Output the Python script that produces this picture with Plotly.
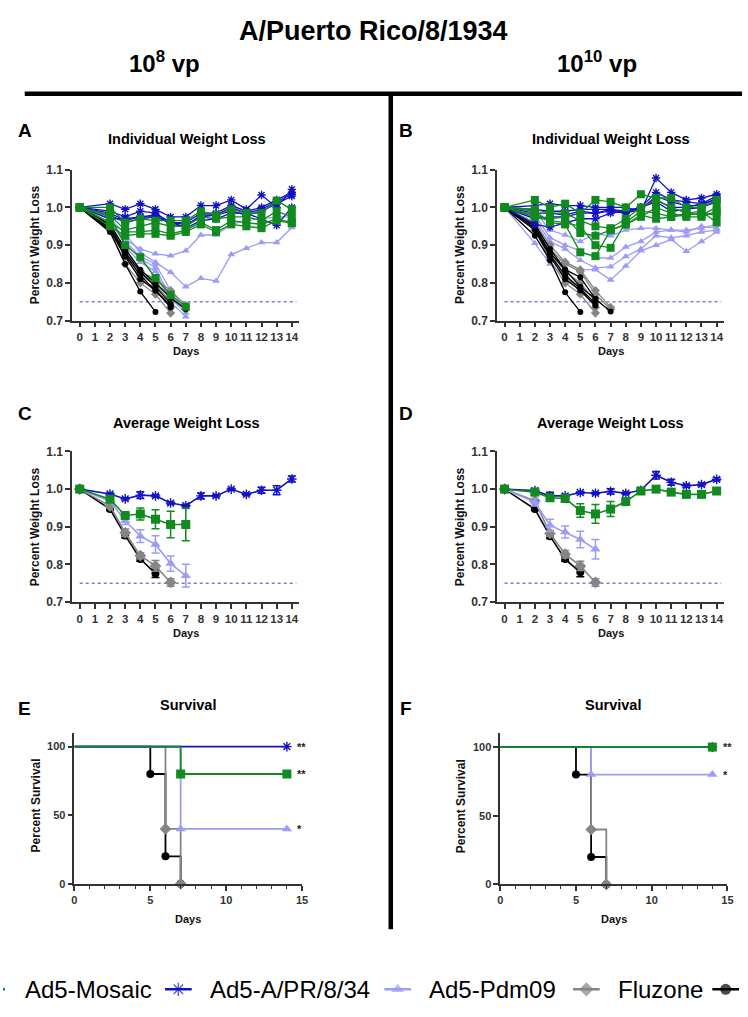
import plotly.graph_objects as go

W, H = 748, 1017

# ---------------- data ----------------
DAYS = [0, 2, 3, 4, 5, 6, 7, 8, 9, 10, 11, 12, 13, 14]
DAY_TICKS = list(range(0, 15))
THRESHOLD = 0.75

GROUPS = ["Ad5-Mosaic", "Ad5-A/PR/8/34", "Ad5-Pdm09", "Fluzone", "PBS"]

# Panel A: individual weights, 10^8 vp
A_MOSAIC = [
    [1, 1.00, 0.96, 0.97, 0.965, 0.965, 0.965, 0.99, 0.98, 0.995, 0.985, 0.985, 1.018, 0.995],
    [1, 0.98, 0.94, 0.95, 0.96, 0.95, 0.95, 0.975, 0.97, 0.975, 0.975, 0.965, 0.99, 0.975],
    [1, 0.96, 0.935, 0.935, 0.94, 0.93, 0.94, 0.96, 0.94, 0.965, 0.96, 0.955, 0.97, 0.96],
    [1, 0.95, 0.925, 0.93, 0.93, 0.925, 0.935, 0.955, 0.935, 0.955, 0.95, 0.945, 0.965, 0.958],
    [1, 0.975, 0.90, 0.868, 0.813, 0.768, 0.737],
]
A_PR8 = [
    [1, 1.01, 0.995, 1.01, 0.995, 0.975, 0.975, 1.005, 1.005, 1.02, 0.995, 1.033, 1.0, 1.048],
    [1, 0.99, 0.975, 0.99, 0.985, 0.96, 0.96, 0.985, 0.985, 1.005, 0.99, 1.0, 1.02, 1.04],
    [1, 0.985, 0.965, 0.975, 0.98, 0.955, 0.95, 0.98, 0.98, 1.0, 0.985, 0.995, 1.015, 1.035],
    [1, 0.98, 0.96, 0.97, 0.975, 0.96, 0.955, 0.975, 0.98, 0.99, 0.98, 0.99, 1.01, 1.03],
    [1, 0.97, 0.97, 0.975, 0.975, 0.963, 0.945, 0.965, 0.97, 0.985, 0.985, 0.97, 0.953, 1.0],
]
A_PDM09 = [
    [1, 0.96, 0.915, 0.89, 0.877, 0.872, 0.885, 0.927, 0.927, 0.955, 0.965, 0.97, 0.975, 0.975],
    [1, 0.97, 0.93, 0.88, 0.855, 0.828, 0.79, 0.812, 0.805, 0.875, 0.892, 0.907, 0.907, 0.947],
    [1, 0.97, 0.91, 0.87, 0.85, 0.78, 0.73],
    [1, 0.96, 0.905, 0.865, 0.84, 0.76, 0.72],
    [1, 0.95, 0.895, 0.855, 0.83, 0.75, 0.71],
]
A_FLUZONE = [
    [1, 0.955, 0.89, 0.83, 0.81, 0.78, 0.74],
    [1, 0.95, 0.885, 0.825, 0.80, 0.765, 0.73],
    [1, 0.95, 0.88, 0.82, 0.795, 0.75],
    [1, 0.945, 0.87, 0.81, 0.785, 0.735],
    [1, 0.94, 0.85, 0.80, 0.77, 0.72],
]
A_PBS = [
    [1, 0.935, 0.85, 0.777, 0.723],
    [1, 0.94, 0.87, 0.81, 0.78, 0.74],
    [1, 0.945, 0.875, 0.82, 0.78, 0.735],
    [1, 0.95, 0.88, 0.83, 0.79, 0.745],
    [1, 0.955, 0.89, 0.835, 0.80, 0.76, 0.73],
]

# Panel B: individual weights, 10^10 vp
B_MOSAIC = [
    [1, 1.02, 1.0, 1.01, 0.985, 1.02, 1.015, 1.0, 1.035, 1.025, 1.025, 1.0, 1.0, 1.02],
    [1, 0.995, 0.985, 0.985, 0.965, 0.95, 0.945, 0.97, 1.0, 1.02, 1.0, 0.985, 0.98, 1.0],
    [1, 0.98, 0.97, 0.975, 0.932, 0.925, 0.94, 0.955, 0.975, 1.0, 0.985, 0.975, 0.975, 0.99],
    [1, 0.975, 0.965, 0.96, 0.95, 0.90, 0.893, 0.96, 0.99, 0.985, 0.975, 0.98, 0.985, 0.98],
    [1, 0.99, 0.96, 0.955, 0.881, 0.871, 0.94, 0.955, 0.98, 0.97, 0.975, 0.985, 0.99, 0.96],
]
B_PR8 = [
    [1, 1.005, 1.01, 1.005, 1.005, 1.0, 1.0, 1.0, 0.99, 1.078, 1.04, 1.02, 1.025, 1.035],
    [1, 0.995, 0.99, 0.99, 0.995, 0.995, 0.995, 0.99, 1.0, 1.04, 1.02, 1.015, 1.01, 1.03],
    [1, 0.985, 0.985, 0.98, 0.99, 0.985, 0.995, 0.985, 0.995, 1.03, 1.015, 1.005, 1.005, 1.025],
    [1, 0.97, 0.975, 0.975, 0.985, 0.985, 0.99, 0.985, 1.0, 1.02, 1.0, 1.0, 1.01, 1.02],
    [1, 0.955, 0.948, 0.96, 0.97, 0.97, 0.985, 0.99, 1.0, 1.015, 0.99, 0.995, 1.0, 1.015],
]
B_PDM09 = [
    [1, 0.99, 0.94, 0.927, 0.91, 0.93, 0.925, 0.94, 0.945, 0.945, 0.94, 0.94, 0.945, 0.955],
    [1, 0.98, 0.92, 0.90, 0.885, 0.866, 0.866, 0.895, 0.91, 0.935, 0.94, 0.935, 0.95, 0.945],
    [1, 0.97, 0.91, 0.89, 0.86, 0.84, 0.843, 0.87, 0.89, 0.925, 0.92, 0.925, 0.935, 0.94],
    [1, 0.975, 0.87, 0.855, 0.835, 0.835, 0.808, 0.845, 0.885, 0.90, 0.915, 0.884, 0.91, 0.935],
    [1, 0.905, 0.85, 0.815, 0.78, 0.74],
]
B_FLUZONE = [
    [1, 0.96, 0.90, 0.855, 0.835, 0.78, 0.735],
    [1, 0.955, 0.89, 0.85, 0.83, 0.77, 0.73],
    [1, 0.95, 0.88, 0.83, 0.80, 0.75],
    [1, 0.945, 0.87, 0.815, 0.785, 0.735],
    [1, 0.94, 0.86, 0.80, 0.77, 0.72],
]
B_PBS = [
    [1, 0.925, 0.86, 0.775, 0.723],
    [1, 0.94, 0.87, 0.81, 0.78, 0.74],
    [1, 0.945, 0.875, 0.82, 0.785, 0.745],
    [1, 0.95, 0.88, 0.835, 0.79, 0.757],
    [1, 0.955, 0.89, 0.835, 0.815, 0.757, 0.724],
]

# Panel C: mean weights, 10^8 vp (mean, SEM)
C_MOSAIC = [1.0, 0.973, 0.930, 0.934, 0.920, 0.906, 0.906]
C_MOSAIC_ERR = [0, 0.008, 0.005, 0.016, 0.025, 0.035, 0.043]
C_PR8 = [1.0, 0.987, 0.974, 0.984, 0.982, 0.963, 0.956, 0.982, 0.982, 1.0, 0.986, 0.997, 0.997, 1.027]
C_PR8_ERR = [0, 0.003, 0.003, 0.009, 0.003, 0.003, 0.003, 0.008, 0.003, 0.002, 0.003, 0.008, 0.012, 0.008]
C_PDM09 = [1.0, 0.968, 0.916, 0.875, 0.853, 0.802, 0.770]
C_PDM09_ERR = [0, 0.005, 0.010, 0.017, 0.023, 0.020, 0.030]
C_FLUZONE = [1.0, 0.955, 0.884, 0.823, 0.796, 0.752]
C_FLUZONE_ERR = [0, 0.004, 0.010, 0.008, 0.014, 0.010]
C_PBS = [1.0, 0.947, 0.877, 0.814, 0.776]
C_PBS_ERR = [0, 0.004, 0.006, 0.006, 0.011]

# Panel D: mean weights, 10^10 vp (mean, SEM)
D_MOSAIC = [1.0, 0.992, 0.977, 0.975, 0.943, 0.934, 0.947, 0.967, 0.995, 1.0, 0.992, 0.986, 0.986, 0.995]
D_MOSAIC_ERR = [0, 0.008, 0.005, 0.008, 0.018, 0.025, 0.020, 0.004, 0.006, 0.006, 0.006, 0.004, 0.004, 0.006]
D_PR8 = [1.0, 0.996, 0.982, 0.982, 0.991, 0.989, 0.994, 0.989, 0.997, 1.037, 1.018, 1.009, 1.012, 1.026]
D_PR8_ERR = [0, 0.005, 0.010, 0.004, 0.003, 0.003, 0.007, 0.003, 0.003, 0.010, 0.008, 0.004, 0.004, 0.004]
D_PDM09 = [1.0, 0.965, 0.904, 0.886, 0.866, 0.840]
D_PDM09_ERR = [0, 0.010, 0.016, 0.016, 0.022, 0.026]
D_FLUZONE = [1.0, 0.969, 0.882, 0.827, 0.796, 0.752]
D_FLUZONE_ERR = [0, 0.004, 0.008, 0.010, 0.012, 0.010]
D_PBS = [1.0, 0.947, 0.875, 0.814, 0.779]
D_PBS_ERR = [0, 0.004, 0.006, 0.006, 0.012]

# Panels E/F: Kaplan-Meier survival (%)
E_MOSAIC_X, E_MOSAIC_Y = [0, 7, 14], [100, 80, 80]
E_PR8_X, E_PR8_Y = [0, 14], [100, 100]
E_PDM09_X, E_PDM09_Y = [0, 7, 14], [100, 40, 40]
E_FLUZONE_X, E_FLUZONE_Y = [0, 6, 7], [100, 40, 0]
E_PBS_X, E_PBS_Y = [0, 5, 6, 7], [100, 80, 20, 0]

F_MOSAIC_X, F_MOSAIC_Y = [0, 14], [100, 100]
F_PR8_X, F_PR8_Y = [0, 14], [100, 100]
F_PDM09_X, F_PDM09_Y = [0, 6, 14], [100, 80, 80]
F_FLUZONE_X, F_FLUZONE_Y = [0, 6, 7], [100, 40, 0]
F_PBS_X, F_PBS_Y = [0, 5, 6, 7], [100, 80, 20, 0]

E_SIG = [("**", 100), ("**", 80), ("*", 40)]
F_SIG = [("**", 100), ("*", 80)]

# ---------------- styles ----------------
GREEN = "#118A1F"
BLUE = "#1212C4"
LAV = "#9C9CF7"
GRAY = "#858585"
BLACK = "#000000"
AX = "#333333"
FONT = "Liberation Sans, Arial, sans-serif"

STY = {
    "Ad5-Mosaic": dict(color=GREEN, symbol="square", s_ind=8, s_avg=9),
    "Ad5-A/PR/8/34": dict(color=BLUE, symbol="asterisk-open", s_ind=7, s_avg=8),
    "Ad5-Pdm09": dict(color=LAV, symbol="triangle-up", s_ind=7, s_avg=9),
    "Fluzone": dict(color=GRAY, symbol="diamond", s_ind=7, s_avg=9),
    "PBS": dict(color=BLACK, symbol="circle", s_ind=6, s_avg=8),
}


def marker(name, size):
    st = STY[name]
    m = dict(symbol=st["symbol"], size=size, color=st["color"])
    if "asterisk" in st["symbol"]:
        m["line"] = dict(color=st["color"], width=1.4)
    else:
        m["line"] = dict(width=0)
    return m


def px(x):
    return x / W


def py(y):
    return 1 - y / H


fig = go.Figure()

# individual panels
ind_order = ["Ad5-Pdm09", "Fluzone", "PBS", "Ad5-A/PR/8/34", "Ad5-Mosaic"]
A_DATA = {"Ad5-Mosaic": A_MOSAIC, "Ad5-A/PR/8/34": A_PR8, "Ad5-Pdm09": A_PDM09,
          "Fluzone": A_FLUZONE, "PBS": A_PBS}
B_DATA = {"Ad5-Mosaic": B_MOSAIC, "Ad5-A/PR/8/34": B_PR8, "Ad5-Pdm09": B_PDM09,
          "Fluzone": B_FLUZONE, "PBS": B_PBS}
for data, xa, ya in [(A_DATA, "x", "y"), (B_DATA, "x2", "y2")]:
    for g in ind_order:
        for mouse in data[g]:
            fig.add_trace(go.Scatter(
                x=DAYS[:len(mouse)], y=mouse, mode="lines+markers",
                line=dict(color=STY[g]["color"], width=1.3),
                marker=marker(g, STY[g]["s_ind"]),
                xaxis=xa, yaxis=ya, showlegend=False, cliponaxis=False))

# mean panels
avg_order = ["PBS", "Fluzone", "Ad5-Pdm09", "Ad5-A/PR/8/34", "Ad5-Mosaic"]
C_DATA = {"Ad5-Mosaic": (C_MOSAIC, C_MOSAIC_ERR), "Ad5-A/PR/8/34": (C_PR8, C_PR8_ERR),
          "Ad5-Pdm09": (C_PDM09, C_PDM09_ERR), "Fluzone": (C_FLUZONE, C_FLUZONE_ERR),
          "PBS": (C_PBS, C_PBS_ERR)}
D_DATA = {"Ad5-Mosaic": (D_MOSAIC, D_MOSAIC_ERR), "Ad5-A/PR/8/34": (D_PR8, D_PR8_ERR),
          "Ad5-Pdm09": (D_PDM09, D_PDM09_ERR), "Fluzone": (D_FLUZONE, D_FLUZONE_ERR),
          "PBS": (D_PBS, D_PBS_ERR)}
for data, xa, ya in [(C_DATA, "x3", "y3"), (D_DATA, "x4", "y4")]:
    for g in avg_order:
        mean, err = data[g]
        fig.add_trace(go.Scatter(
            x=DAYS[:len(mean)], y=mean, mode="lines+markers",
            line=dict(color=STY[g]["color"], width=1.6),
            marker=marker(g, STY[g]["s_avg"]),
            error_y=dict(type="data", array=err, color=STY[g]["color"], thickness=1.5, width=4),
            xaxis=xa, yaxis=ya, showlegend=False, cliponaxis=False))

# survival panels
surv_order = ["PBS", "Fluzone", "Ad5-Pdm09", "Ad5-A/PR/8/34", "Ad5-Mosaic"]
E_DATA = {"Ad5-Mosaic": (E_MOSAIC_X, E_MOSAIC_Y), "Ad5-A/PR/8/34": (E_PR8_X, E_PR8_Y),
          "Ad5-Pdm09": (E_PDM09_X, E_PDM09_Y), "Fluzone": (E_FLUZONE_X, E_FLUZONE_Y),
          "PBS": (E_PBS_X, E_PBS_Y)}
F_DATA = {"Ad5-Mosaic": (F_MOSAIC_X, F_MOSAIC_Y), "Ad5-A/PR/8/34": (F_PR8_X, F_PR8_Y),
          "Ad5-Pdm09": (F_PDM09_X, F_PDM09_Y), "Fluzone": (F_FLUZONE_X, F_FLUZONE_Y),
          "PBS": (F_PBS_X, F_PBS_Y)}
for data, xa, ya in [(E_DATA, "x5", "y5"), (F_DATA, "x6", "y6")]:
    for g in surv_order:
        sx, sy = data[g]
        fig.add_trace(go.Scatter(
            x=sx, y=sy, mode="lines", line=dict(color=STY[g]["color"], width=1.8, shape="hv"),
            xaxis=xa, yaxis=ya, showlegend=False, cliponaxis=False))
    for g in ["PBS", "Ad5-Pdm09", "Ad5-A/PR/8/34", "Ad5-Mosaic", "Fluzone"]:
        sx, sy = data[g]
        fig.add_trace(go.Scatter(
            x=sx[1:], y=sy[1:], mode="markers", marker=marker(g, STY[g]["s_avg"]),
            xaxis=xa, yaxis=ya, showlegend=False, cliponaxis=False))

# legend strip (hidden helper axis in pixel units)
LEG_ITEMS = [("Ad5-Mosaic", -25, 20), ("Ad5-A/PR/8/34", 164, 207), ("Ad5-Pdm09", 386, 429),
             ("Fluzone", 577, 620), ("PBS", 718, None)]
LEG_Y = 996
for g, x0, tx in LEG_ITEMS:
    fig.add_trace(go.Scatter(
        x=[x0, x0 + 13.5, x0 + 27], y=[0.5, 0.5, 0.5], mode="lines+markers",
        line=dict(color=STY[g]["color"], width=2.5),
        marker=dict(marker(g, 11), size=[0, 11, 0]),
        xaxis="x7", yaxis="y7", showlegend=False))

# ---------------- axes ----------------
def wl_x(x0, x1, anchor):
    return dict(domain=[px(x0), px(x1)], range=[-0.5, 14.5], tickvals=DAY_TICKS,
                ticks="outside", ticklen=5, tickwidth=1.5, tickcolor=AX,
                showline=True, linecolor=AX, linewidth=1.5, showgrid=False, zeroline=False,
                tickfont=dict(family=FONT, size=11.5, color=AX, weight="bold"), anchor=anchor)


def wl_y(y0, y1, anchor):
    return dict(domain=[py(y1), py(y0)], range=[0.7, 1.1], tickvals=[0.7, 0.8, 0.9, 1.0, 1.1],
                tickformat=".1f", ticks="outside", ticklen=5, tickwidth=1.5, tickcolor=AX,
                showline=True, linecolor=AX, linewidth=1.5, showgrid=False, zeroline=False,
                tickfont=dict(family=FONT, size=12, color=AX, weight="bold"), anchor=anchor)


def sv_x(x0, x1, anchor):
    return dict(domain=[px(x0), px(x1)], range=[0, 15], tickvals=[0, 5, 10, 15],
                ticks="outside", ticklen=5, tickwidth=1.5, tickcolor=AX,
                minor=dict(dtick=1, ticks="outside", ticklen=3, tickwidth=1.2, tickcolor=AX),
                showline=True, linecolor=AX, linewidth=1.5, showgrid=False, zeroline=False,
                tickfont=dict(family=FONT, size=11, color=AX, weight="bold"), anchor=anchor)


def sv_y(y0, y1, anchor):
    return dict(domain=[py(y1), py(y0)], range=[0, 110], tickvals=[0, 50, 100],
                ticks="outside", ticklen=5, tickwidth=1.5, tickcolor=AX,
                showline=True, linecolor=AX, linewidth=1.5, showgrid=False, zeroline=False,
                tickfont=dict(family=FONT, size=11, color=AX, weight="bold"), anchor=anchor)


fig.update_layout(
    width=W, height=H, margin=dict(l=0, r=0, t=0, b=0),
    paper_bgcolor="white", plot_bgcolor="white", showlegend=False,
    xaxis=wl_x(70, 300, "y"), yaxis=wl_y(165, 318, "x"),
    xaxis2=wl_x(500, 730, "y2"), yaxis2=wl_y(165, 318, "x2"),
    xaxis3=wl_x(70, 300, "y3"), yaxis3=wl_y(450.7, 603.3, "x3"),
    xaxis4=wl_x(500, 730, "y4"), yaxis4=wl_y(450.7, 603.3, "x4"),
    xaxis5=sv_x(72.3, 302.7, "y5"), yaxis5=sv_y(736, 889, "x5"),
    xaxis6=sv_x(503.3, 733.3, "y6"), yaxis6=sv_y(736.5, 889.7, "x6"),
    xaxis7=dict(domain=[0, 1], range=[0, W], visible=False, anchor="y7"),
    yaxis7=dict(domain=[py(LEG_Y + 10), py(LEG_Y - 10)], range=[0, 1], visible=False, anchor="x7"),
)

shapes = []
# dotted threshold lines
for xr, yr in [("x", "y"), ("x2", "y2"), ("x3", "y3"), ("x4", "y4")]:
    shapes.append(dict(type="line", xref=xr, yref=yr, x0=0, x1=14.3, y0=THRESHOLD, y1=THRESHOLD,
                       line=dict(color="#7C7CD8", width=1.5, dash="dot"), layer="below"))
# header dividers
shapes.append(dict(type="line", xref="paper", yref="paper", x0=px(22), x1=px(748),
                   y0=py(88), y1=py(88), line=dict(color="black", width=4.5)))
shapes.append(dict(type="line", xref="paper", yref="paper", x0=px(392.5), x1=px(392.5),
                   y0=py(88), y1=py(935), line=dict(color="black", width=4.5)))
fig.update_layout(shapes=shapes)

ann = []


def text(x, y, s, size, bold=True, angle=0, xanchor="center", color="black"):
    ann.append(dict(x=px(x), y=py(y), xref="paper", yref="paper", text=s, showarrow=False,
                    xanchor=xanchor, yanchor="middle", textangle=angle,
                    font=dict(family=FONT, size=size, color=color,
                              weight="bold" if bold else "normal")))


# header
text(375, 24, "A/Puerto Rico/8/1934", 27)
text(163, 56, "10<sup>8</sup> vp", 24)
text(601, 56, "10<sup>10</sup> vp", 24)

# panel letters and titles
for lx, tx, y, ty, lab, title in [
    (22, 186, 125, 134, "A", "Individual Weight Loss"), (408, 615, 125, 134, "B", "Individual Weight Loss"),
    (22, 186, 412, 422, "C", "Average Weight Loss"), (408, 615, 412, 422, "D", "Average Weight Loss"),
    (22, 187, 711, 708, "E", "Survival"), (408, 617, 711, 708, "F", "Survival")]:
    text(lx, y, lab, 19)
    text(tx, ty, title, 14.5)

# axis titles
for x, y in [(32, 241), (462, 241), (32, 527), (462, 527)]:
    text(x, y, "Percent Weight Loss", 12, angle=-90, color="#111")
for x, y in [(33, 810), (463, 810)]:
    text(x, y, "Percent Survival", 12, angle=-90, color="#111")
for x, y in [(185, 349), (615, 349), (185, 635), (615, 635), (187, 925), (618, 925)]:
    text(x, y, "Days", 11, color="#111")

# significance marks
for s, v in E_SIG:
    ann.append(dict(x=14.55, y=v, xref="x5", yref="y5", text=s, showarrow=False, xanchor="left",
                    yanchor="middle", font=dict(family=FONT, size=11, color="#222", weight="bold")))
for s, v in F_SIG:
    ann.append(dict(x=14.55, y=v, xref="x6", yref="y6", text=s, showarrow=False, xanchor="left",
                    yanchor="middle", font=dict(family=FONT, size=11, color="#222", weight="bold")))

# legend labels
for g, x0, tx in LEG_ITEMS:
    if tx is not None:
        text(tx, LEG_Y, g, 24, bold=False, xanchor="left")

fig.update_layout(annotations=ann)
fig.write_html("out.html")
